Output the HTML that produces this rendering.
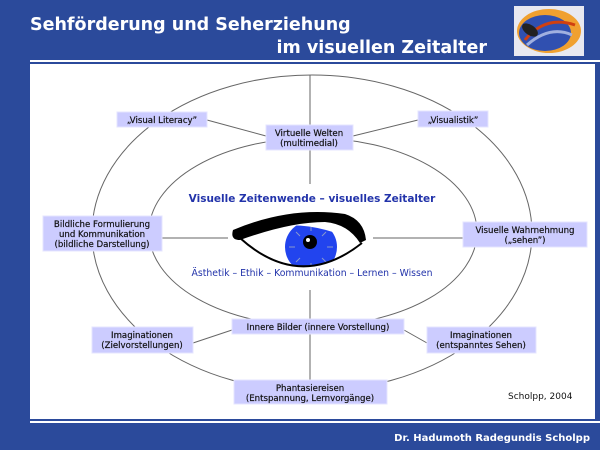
<!DOCTYPE html>
<html><head><meta charset="utf-8"><style>
html,body{margin:0;padding:0;width:600px;height:450px;overflow:hidden;background:#2b4a9b;}
svg{display:block}
text{font-family:"DejaVu Sans","Liberation Sans",sans-serif;}
</style></head><body>
<svg width="600" height="450" viewBox="0 0 600 450" xmlns="http://www.w3.org/2000/svg">
<defs>
<clipPath id="eyeclip"><path d="M240 238 Q295 210 362 244 Q300 292 240 238Z"/></clipPath>
</defs>
<rect width="600" height="450" fill="#2b4a9b"/>
<text x="30" y="30" fill="#fff" font-size="17.5" font-weight="bold">Sehförderung und Seherziehung</text>
<text x="487" y="53" fill="#fff" font-size="17.5" font-weight="bold" text-anchor="end">im visuellen Zeitalter</text>
<g>
<rect x="514" y="6" width="70" height="50" fill="#e8e8f0"/>
<ellipse cx="549" cy="31" rx="32" ry="22" fill="#f0a030"/>
<ellipse cx="545" cy="33" rx="26" ry="18" fill="#3050b0"/>
<path d="M525 40 Q545 15 575 25" stroke="#d04010" stroke-width="3" fill="none"/>
<path d="M527 45 Q550 25 572 35" stroke="#a0b0e0" stroke-width="3" fill="none"/>
<ellipse cx="530" cy="30" rx="9" ry="5" fill="#222" transform="rotate(35 530 30)"/>
</g>
<rect x="30" y="60" width="570" height="2" fill="#fff"/>
<rect x="30" y="64" width="565" height="355" fill="#fff"/>
<rect x="30" y="421" width="570" height="2" fill="#fff"/>
<g stroke="#666" stroke-width="1" fill="none">
<ellipse cx="312" cy="233" rx="220" ry="158"/>
<ellipse cx="313" cy="232" rx="164" ry="94"/>
<line x1="310" y1="75" x2="310" y2="184"/>
<line x1="310" y1="290" x2="310" y2="380"/>
<line x1="162" y1="238" x2="228" y2="238"/>
<line x1="373" y1="238" x2="464" y2="238"/>
<line x1="207" y1="120" x2="266" y2="136"/>
<line x1="418" y1="120" x2="353" y2="136"/>
<line x1="193" y1="343" x2="232" y2="330"/>
<line x1="404" y1="330" x2="427" y2="343"/>
</g>
<g fill="#ccccff" stroke="#e4e4ff" stroke-width="1">
<rect x="117" y="112" width="90" height="15"/>
<rect x="418" y="111" width="70" height="16"/>
<rect x="266" y="125" width="87" height="25"/>
<rect x="43" y="216" width="119" height="35"/>
<rect x="463" y="222" width="124" height="25"/>
<rect x="232" y="319" width="172" height="15"/>
<rect x="92" y="327" width="101" height="26"/>
<rect x="427" y="327" width="109" height="26"/>
<rect x="234" y="380" width="153" height="24"/>
</g>
<g font-size="8.6" fill="#111" text-anchor="middle" stroke="#111" stroke-width="0.2">
<text x="162" y="123">„Visual Literacy”</text>
<text x="453" y="123">„Visualistik”</text>
<text x="309" y="136">Virtuelle Welten</text>
<text x="309" y="146">(multimedial)</text>
<text x="102" y="227">Bildliche Formulierung</text>
<text x="102" y="237">und Kommunikation</text>
<text x="102" y="247">(bildliche Darstellung)</text>
<text x="525" y="233">Visuelle Wahrnehmung</text>
<text x="525" y="243">(„sehen”)</text>
<text x="318" y="330">Innere Bilder (innere Vorstellung)</text>
<text x="142" y="338">Imaginationen</text>
<text x="142" y="348">(Zielvorstellungen)</text>
<text x="481" y="338">Imaginationen</text>
<text x="481" y="348">(entspanntes Sehen)</text>
<text x="310" y="391">Phantasiereisen</text>
<text x="310" y="401">(Entspannung, Lernvorgänge)</text>
</g>
<text x="508" y="399" font-size="9" fill="#111">Scholpp, 2004</text>
<text x="312" y="202" font-size="10.5" font-weight="bold" fill="#2233aa" text-anchor="middle">Visuelle Zeitenwende – visuelles Zeitalter</text>
<text x="312" y="276" font-size="9.3" fill="#2233aa" text-anchor="middle">Ästhetik – Ethik – Kommunikation – Lernen – Wissen</text>
<g clip-path="url(#eyeclip)">
<circle cx="311" cy="247" r="26" fill="#2244ee"/>
<g stroke="#8899cc" stroke-width="1">
<line x1="311" y1="225" x2="311" y2="231"/><line x1="311" y1="263" x2="311" y2="269"/>
<line x1="289" y1="247" x2="295" y2="247"/><line x1="327" y1="247" x2="333" y2="247"/>
<line x1="296" y1="232" x2="300" y2="236"/><line x1="322" y1="258" x2="326" y2="262"/>
<line x1="326" y1="232" x2="322" y2="236"/><line x1="300" y1="258" x2="296" y2="262"/>
</g>
<circle cx="310" cy="242" r="7" fill="#000"/>
<circle cx="308" cy="240" r="2" fill="#fff"/>
</g>
<path d="M233 230 Q290 206 345 214 Q364 220 366 240 L360 243 Q348 224 325 222 Q290 222 240 240 Q230 240 233 230Z" fill="#000"/>
<path d="M240 238 Q300 292 362 243" stroke="#000" stroke-width="2" fill="none"/>
<text x="590" y="441" font-size="10" font-weight="bold" fill="#fff" text-anchor="end">Dr. Hadumoth Radegundis Scholpp</text>
</svg>
</body></html>
